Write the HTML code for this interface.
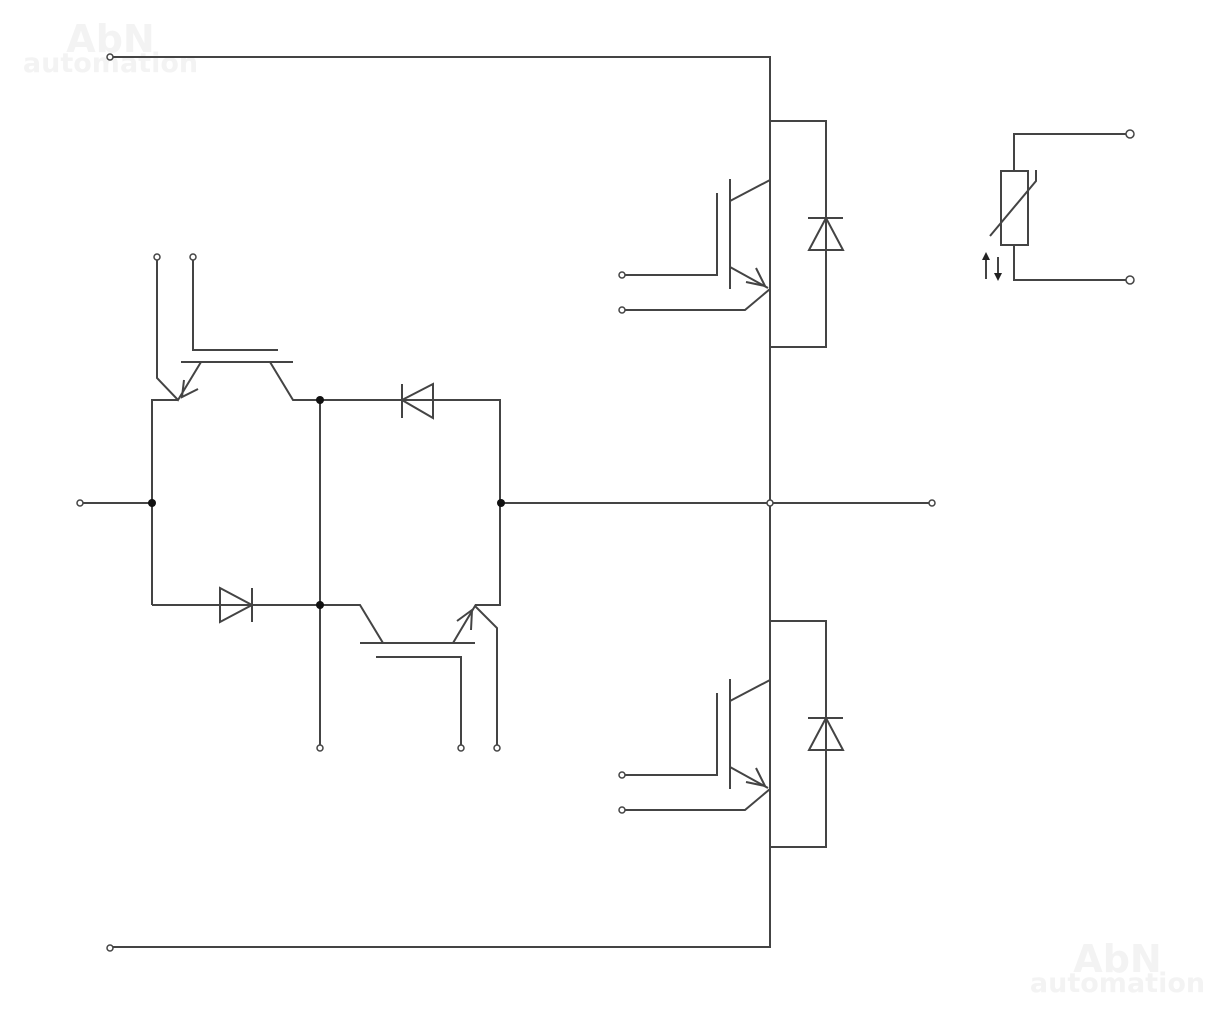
<!DOCTYPE html>
<html><head><style>
html,body{margin:0;padding:0;background:#fff;}
.wm{position:absolute;font-family:"DejaVu Sans","Liberation Sans",sans-serif;font-weight:bold;color:#f3f3f3;line-height:1;text-align:center;}
</style></head><body>
<div class="wm" style="left:18px;top:20px;width:185px;"><div style="font-size:38px">AbN</div><div style="font-size:27px;margin-top:-8px">automation</div></div>
<div class="wm" style="left:1025px;top:940px;width:185px;"><div style="font-size:38px">AbN</div><div style="font-size:27px;margin-top:-8px">automation</div></div>
<svg width="1220" height="1017" style="position:absolute;left:0;top:0" fill="none" stroke="#444" stroke-width="2">
<defs>
<g id="igbt">
<path d="M770,121 H826 V347 H770"/>
<path d="M770,180 L730,201"/>
<path d="M730,179 V289" />
<path d="M717,193 V275 H622"/>
<path d="M730,267 L768,288"/>
<path d="M746,282 L765,286 L756,268"/>
<path d="M622,310 H745 L770,289"/>
<path d="M808,218 H843"/>
<path d="M826,218 L809,250 H843 Z"/>
</g>
</defs>
<path d="M110,57 H770 V947 H110"/>
<use href="#igbt"/>
<use href="#igbt" transform="translate(0,500)"/>
<path d="M80,503 H152"/>
<path d="M501,503 H932"/>
<!-- left bridge -->
<path d="M152,605 V400 H178"/>
<path d="M157,257 V378 L178,400 L201,362"/>
<path d="M181,362 H293"/>
<path d="M193,257 V350 H278"/>
<path d="M184,380 L182,397 L198,389"/>
<path d="M270,362 L293,400 H500 V605 H475"/>
<path d="M320,400 V748"/>
<path d="M402,384 V418"/>
<path d="M402,400 L433,384 V418 Z"/>
<path d="M152,605 H360 L383,643"/>
<path d="M220,588 L252,605 L220,622 Z"/>
<path d="M252,588 V622"/>
<path d="M360,643 H475"/>
<path d="M376,657 H461 V748"/>
<path d="M453,643 L475,606 L497,628 V748"/>
<path d="M457,621 L472,610 L471,630"/>
<!-- thermistor -->
<path d="M1130,134 H1014 V171"/>
<rect x="1001" y="171" width="27" height="74"/>
<path d="M1014,245 V280 H1130"/>
<path d="M990,236 L1036,181 V170"/>
<g stroke-width="2"><path d="M986,256 V279"/><path d="M998,257 V276"/></g>
</svg>
<svg width="1220" height="1017" style="position:absolute;left:0;top:0" stroke="#444">
<path d="M982,260 L986,252 L990,260 Z" fill="#222" stroke="none"/>
<path d="M994,273 L998,281 L1002,273 Z" fill="#222" stroke="none"/>
<g fill="#fff" stroke-width="1.5">
<circle cx="110" cy="57" r="3"/><circle cx="110" cy="948" r="3"/>
<circle cx="80" cy="503" r="3"/><circle cx="932" cy="503" r="3"/>
<circle cx="622" cy="275" r="3"/><circle cx="622" cy="310" r="3"/>
<circle cx="622" cy="775" r="3"/><circle cx="622" cy="810" r="3"/>
<circle cx="157" cy="257" r="3"/><circle cx="193" cy="257" r="3"/>
<circle cx="320" cy="748" r="3"/><circle cx="461" cy="748" r="3"/><circle cx="497" cy="748" r="3"/>
<circle cx="1130" cy="134" r="4"/><circle cx="1130" cy="280" r="4"/>
<circle cx="770" cy="503" r="3"/>
</g>
<g fill="#111" stroke="none">
<circle cx="152" cy="503" r="4"/><circle cx="501" cy="503" r="4"/>
<circle cx="320" cy="400" r="4"/><circle cx="320" cy="605" r="4"/>
</g>
</svg>
</body></html>
